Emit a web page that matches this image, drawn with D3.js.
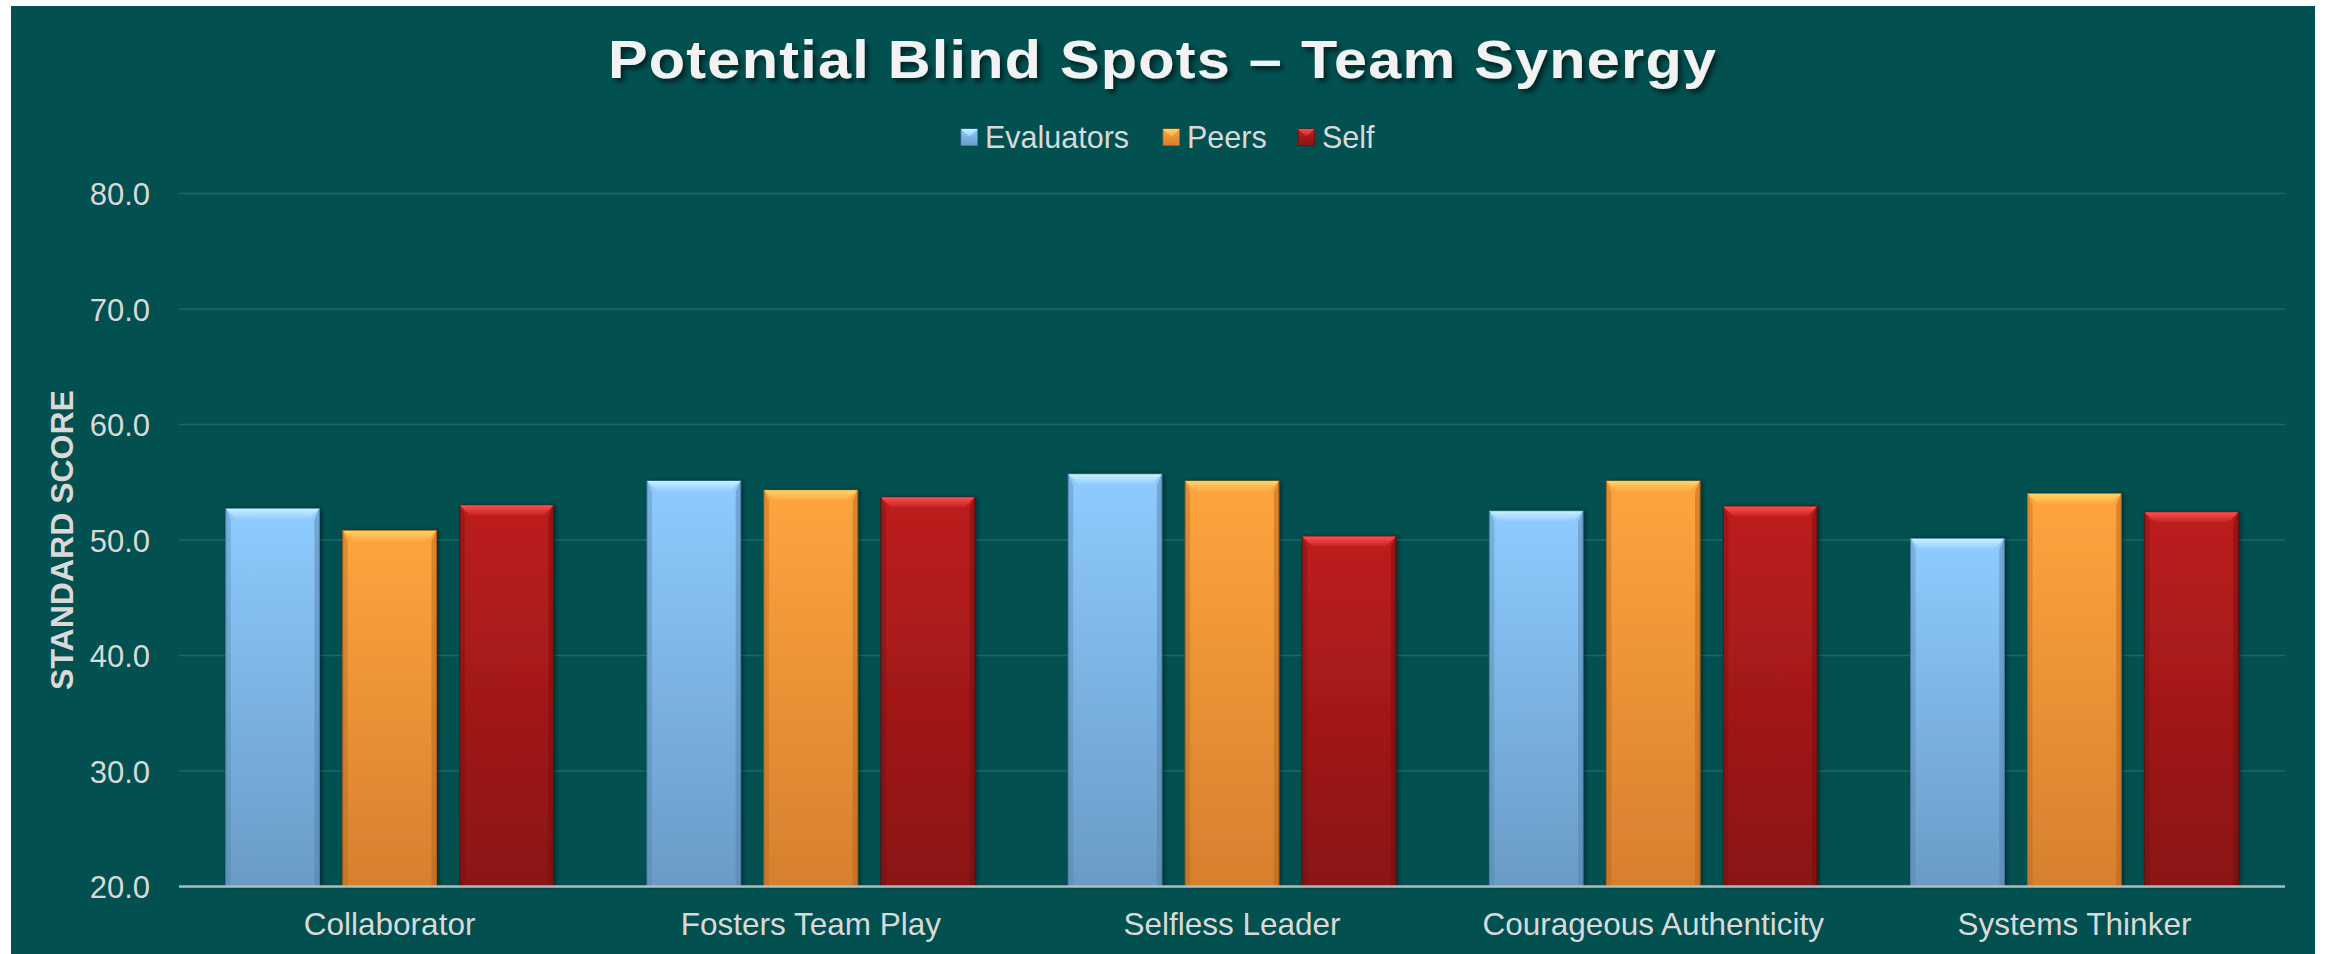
<!DOCTYPE html>
<html>
<head>
<meta charset="utf-8">
<script src="https://cdn.jsdelivr.net/npm/d3@7"></script>
<style>
html,body{margin:0;padding:0;background:#ffffff;}
svg{display:block;}
</style>
</head>
<body>
<script>
// ---- data ----
const categories = ["Collaborator", "Fosters Team Play", "Selfless Leader", "Courageous Authenticity", "Systems Thinker"];
const seriesNames = ["Evaluators", "Peers", "Self"];
const evaluators = [52.7, 55.1, 55.7, 52.5, 50.1];
const peers = [50.8, 54.3, 55.1, 55.1, 54.0];
const self = [53.0, 53.7, 50.3, 52.9, 52.4];
const yTicks = [20, 30, 40, 50, 60, 70, 80];
const titleText = "Potential Blind Spots \u2013 Team Synergy";
const yTitle = "STANDARD SCORE";

const seriesValues = [evaluators, peers, self];
const colors = {
  Evaluators: {top: "#8ecbff", bottom: "#6a9bc6", bevel: "#c8f0ff", edge: "#4f7fa8"},
  Peers:      {top: "#ffa43e", bottom: "#d6802e", bevel: "#ffd466", edge: "#b0621c"},
  Self:       {top: "#bd1d1d", bottom: "#8a1515", bevel: "#ff5050", edge: "#6a0d0d"}
};

const W = 2325, H = 954;
const svg = d3.select("body").append("svg").attr("width", W).attr("height", H);
const defs = svg.append("defs");

// gradients
seriesNames.forEach((s, i) => {
  const g = defs.append("linearGradient").attr("id", "grad" + i).attr("x1", 0).attr("y1", 0).attr("x2", 0).attr("y2", 1);
  g.append("stop").attr("offset", "0%").attr("stop-color", colors[s].top);
  g.append("stop").attr("offset", "100%").attr("stop-color", colors[s].bottom);
  const gb = defs.append("linearGradient").attr("id", "bev" + i).attr("x1", 0).attr("y1", 0).attr("x2", 0).attr("y2", 1);
  gb.append("stop").attr("offset", "0%").attr("stop-color", colors[s].bevel);
  gb.append("stop").attr("offset", "100%").attr("stop-color", colors[s].top);
});
const f = defs.append("filter").attr("id", "tshadow").attr("x", "-10%").attr("y", "-30%").attr("width", "120%").attr("height", "160%");
f.append("feDropShadow").attr("dx", 3).attr("dy", 4).attr("stdDeviation", 2.5).attr("flood-color", "#000").attr("flood-opacity", 0.55);
const fb = defs.append("filter").attr("id", "bshadow").attr("x", "-20%").attr("y", "-5%").attr("width", "140%").attr("height", "110%");
fb.append("feDropShadow").attr("dx", 2).attr("dy", 0).attr("stdDeviation", 2).attr("flood-color", "#000").attr("flood-opacity", 0.45);

// background panel
svg.append("rect").attr("x", 11).attr("y", 6).attr("width", 2304).attr("height", 948).attr("fill", "#025050");

const font = "'Liberation Sans', Arial, sans-serif";

// scales
const plotL = 179, plotR = 2285, plotT = 193.5, plotB = 886.5;
const y = d3.scaleLinear().domain([20, 80]).range([plotB, plotT]);
const x0 = d3.scaleBand().domain(categories).range([plotL, plotR]).padding(0);
const x1 = d3.scaleBand().domain(seriesNames).range([0, x0.bandwidth()]).paddingInner(0.2).paddingOuter(0.4);

// gridlines
svg.append("g").selectAll("line").data(yTicks.filter(t => t !== 20)).join("line")
  .attr("x1", plotL).attr("x2", plotR)
  .attr("y1", d => y(d)).attr("y2", d => y(d))
  .attr("stroke", "#1e6868").attr("stroke-width", 1.5);

// y axis tick labels
const yAxis = d3.axisLeft(y).tickValues(yTicks).tickFormat(d3.format(".1f")).tickSize(0).tickPadding(0);
const gy = svg.append("g").attr("transform", "translate(150,0)").call(yAxis);
gy.select(".domain").remove();
gy.selectAll("text").attr("font-family", font).attr("font-size", 31).attr("fill", "#d9d9d9").attr("dy", "0.36em");

// bars
const barData = [];
categories.forEach((c, ci) => {
  seriesNames.forEach((s, si) => barData.push({cat: c, series: s, si: si, value: seriesValues[si][ci]}));
});
const bars = svg.append("g").selectAll("g").data(barData).join("g")
  .attr("transform", d => `translate(${x0(d.cat) + x1(d.series)},0)`);
const bw = x1.bandwidth();
bars.append("rect")
  .attr("x", 0).attr("width", bw)
  .attr("y", d => y(d.value)).attr("height", d => y(20) - y(d.value))
  .attr("fill", d => `url(#grad${d.si})`)
  .attr("stroke", d => colors[d.series].edge).attr("stroke-width", 1)
  .attr("filter", "url(#bshadow)");
const bev = 11;
// top bevel
bars.append("path")
  .attr("d", d => { const t = y(d.value); return `M0,${t}L${bw},${t}L${bw - bev},${t + bev}L${bev},${t + bev}Z`; })
  .attr("fill", d => `url(#bev${d.si})`);
// side bevels
bars.append("path")
  .attr("d", d => { const t = y(d.value), b = y(20); return `M0,${t}L${bev * 0.45},${t + bev}L${bev * 0.45},${b}L0,${b}Z`; })
  .attr("fill", d => colors[d.series].edge).attr("opacity", 0.35);
bars.append("path")
  .attr("d", d => { const t = y(d.value), b = y(20); return `M${bw},${t}L${bw - bev * 0.45},${t + bev}L${bw - bev * 0.45},${b}L${bw},${b}Z`; })
  .attr("fill", d => colors[d.series].edge).attr("opacity", 0.45);

// x axis
svg.append("line").attr("x1", plotL).attr("x2", plotR).attr("y1", plotB).attr("y2", plotB)
  .attr("stroke", "#aebebe").attr("stroke-width", 2.5);
const xAxis = d3.axisBottom(x0).tickSize(0).tickPadding(0);
const gx = svg.append("g").attr("transform", `translate(0,${plotB})`).call(xAxis);
gx.select(".domain").remove();
gx.selectAll("text").attr("font-family", font).attr("font-size", 31.5).attr("fill", "#d9d9d9").attr("dy", null).attr("y", 48.5);

// y axis title
svg.append("text").attr("transform", "translate(73,540) rotate(-90)")
  .attr("text-anchor", "middle").attr("font-family", font).attr("font-weight", "bold")
  .attr("font-size", 32).attr("fill", "#d9d9d9").text(yTitle);

// title (slightly widened glyphs, as in the reference)
const sx = 1.12;
svg.append("g").attr("transform", `translate(1162,78) scale(${sx},1)`)
  .append("text").attr("x", 0).attr("y", 0).attr("text-anchor", "middle")
  .attr("font-family", font).attr("font-weight", "bold").attr("font-size", 53)
  .attr("fill", "#f2f2f2").attr("filter", "url(#tshadow)")
  .attr("textLength", 1108 / sx).attr("lengthAdjust", "spacing")
  .text(titleText);

// legend
const legendX = [961, 1163, 1298];
const leg = svg.append("g").selectAll("g").data(seriesNames).join("g")
  .attr("transform", (d, i) => `translate(${legendX[i]},129)`);
leg.append("rect").attr("width", 16.5).attr("height", 16.5).attr("fill", (d, i) => `url(#grad${i})`)
  .attr("stroke", d => colors[d].edge).attr("stroke-width", 0.8);
leg.append("path").attr("d", "M0,0L16.5,0L8.25,8Z").attr("fill", (d, i) => `url(#bev${i})`);
leg.append("text").attr("x", 24).attr("y", 8.5).attr("dy", "0.36em")
  .attr("font-family", font).attr("font-size", 30.5).attr("fill", "#d9d9d9").text(d => d);
</script>
</body>
</html>
